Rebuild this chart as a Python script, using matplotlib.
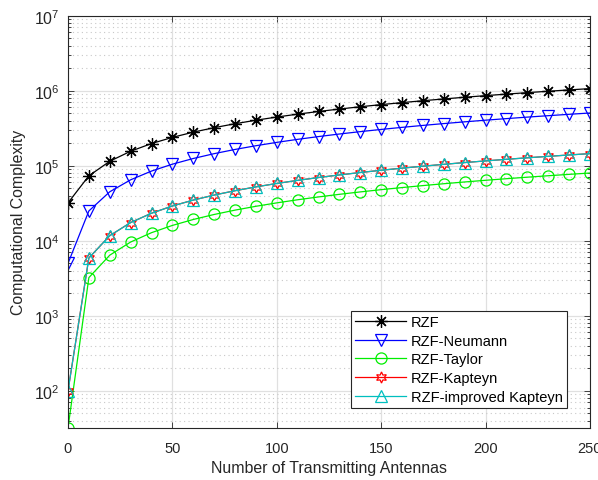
import numpy as np
import matplotlib
matplotlib.use("Agg")
import matplotlib.pyplot as plt
from matplotlib.ticker import LogLocator, NullFormatter, MultipleLocator

plt.rcParams['font.family'] = ['Liberation Sans', 'DejaVu Sans']
plt.rcParams['mathtext.fontset'] = 'custom'
plt.rcParams['mathtext.rm'] = 'Liberation Sans'
plt.rcParams['mathtext.it'] = 'Liberation Sans:italic'
plt.rcParams['mathtext.bf'] = 'Liberation Sans:bold'

# --- DATA ---
antennas = [0, 10, 20, 30, 40, 50, 60, 70, 80, 90, 100, 110, 120,
            130, 140, 150, 160, 170, 180, 190, 200, 210, 220, 230, 240, 250]

rzf = [32000, 73400, 114800, 156200, 197600, 239000, 280400, 321800, 363200,
       404600, 446000, 487400, 528800, 570200, 611600, 653000, 694400, 735800,
       777200, 818600, 860000, 901400, 942800, 984200, 1025600, 1067000]
rzf_neumann = [5000, 25000, 45000, 65000, 85000, 105000, 125000, 145000, 165000,
               185000, 205000, 225000, 245000, 265000, 285000, 305000, 325000,
               345000, 365000, 385000, 405000, 425000, 445000, 465000, 485000,
               505000]
rzf_taylor = [32, 3232, 6432, 9632, 12832, 16032, 19232, 22432, 25632, 28832,
              32032, 35232, 38432, 41632, 44832, 48032, 51232, 54432, 57632,
              60832, 64032, 67232, 70432, 73632, 76832, 80032]
rzf_kapteyn = [100, 5900, 11700, 17500, 23300, 29100, 34900, 40700, 46500,
               52300, 58100, 63900, 69700, 75500, 81300, 87100, 92900, 98700,
               104500, 110300, 116100, 121900, 127700, 133500, 139300, 145100]
rzf_imp_kapteyn = [100, 5900, 11700, 17500, 23300, 29100, 34900, 40700, 46500,
                   52300, 58100, 63900, 69700, 75500, 81300, 87100, 92900, 98700,
                   104500, 110300, 116100, 121900, 127700, 133500, 139300, 145100]

labels = ['RZF', 'RZF-Neumann', 'RZF-Taylor', 'RZF-Kapteyn', 'RZF-improved Kapteyn']

# --- PLOT ---
fig = plt.figure(figsize=(5.98, 4.81), dpi=100)
ax = fig.add_axes([0.1137, 0.1081, 0.8729, 0.8572])

lw = 0.9
ms = 8
ax.plot(antennas, rzf, color='k', marker=(8, 2, 0), ms=ms + 1, mew=0.9, lw=lw, label=labels[0])
ax.plot(antennas, rzf_neumann, color='b', marker='v', ms=ms + 1, mfc='none', mew=0.9, lw=lw, label=labels[1])
ax.plot(antennas, rzf_taylor, color='#00ee00', marker='o', ms=ms, mfc='none', mew=0.9, lw=lw, label=labels[2])
ax.plot(antennas, rzf_kapteyn, color='r', marker=(6, 1, 0), ms=ms, mfc='none', mew=0.9, lw=lw, label=labels[3])
ax.plot(antennas, rzf_imp_kapteyn, color='c', marker='^', ms=ms, mfc='none', mew=0.9, lw=lw, label=labels[4])

ax.set_yscale('log')
ax.set_xlim(0, 250)
ax.set_ylim(32, 1e7)
ax.xaxis.set_major_locator(MultipleLocator(50))
ax.yaxis.set_major_locator(LogLocator(base=10, numticks=10))
ax.yaxis.set_minor_locator(LogLocator(base=10, subs=np.arange(2, 10), numticks=20))
ax.yaxis.set_minor_formatter(NullFormatter())

ax.grid(True, which='major', color='#e0e0e0', lw=0.9, ls='-')
ax.grid(True, which='minor', axis='y', color='#c8c8c8', lw=0.8, ls=(0, (1, 3)))
ax.set_axisbelow(True)

ax.tick_params(which='both', direction='in', top=True, right=True, labelsize=10.5, colors='#262626')
ax.tick_params(which='major', length=4, width=0.6)
ax.tick_params(which='minor', length=2, width=0.6)
ax.tick_params(axis='x', which='major', pad=9)
ax.tick_params(axis='y', which='major', pad=6, labelsize=11.5)
for s in ax.spines.values():
    s.set_linewidth(0.8)
    s.set_color('#262626')

ax.set_xlabel("Number of Transmitting Antennas", fontsize=11.4, color='#262626', labelpad=4)
ax.set_ylabel("Computational Complexity", fontsize=11.4, color='#262626', labelpad=6)

leg = ax.legend(loc='upper left', bbox_to_anchor=(0.5416, 0.2845), fontsize=10.5,
                handlelength=3.5, handletextpad=0.35, labelspacing=0.32,
                borderpad=0.3, borderaxespad=0, fancybox=False, framealpha=1)
leg.get_frame().set_edgecolor('#262626')
leg.get_frame().set_linewidth(0.8)

fig.savefig("out.png", dpi=100)
